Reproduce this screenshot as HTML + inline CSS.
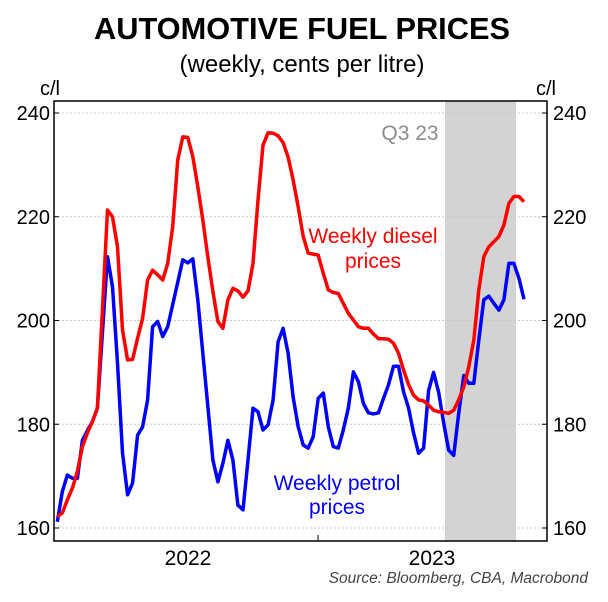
<!DOCTYPE html>
<html><head><meta charset="utf-8"><style>
body{margin:0;background:#fff;}
svg text{font-family:"Liberation Sans",sans-serif;}
</style></head><body>
<svg id="chart" width="608" height="597" viewBox="0 0 608 597">
<text x="302" y="39" text-anchor="middle" font-size="31" font-weight="bold" textLength="416" lengthAdjust="spacingAndGlyphs">AUTOMOTIVE FUEL PRICES</text>
<text x="302" y="72" text-anchor="middle" font-size="24">(weekly, cents per litre)</text>
<text x="40" y="95" font-size="20">c/l</text>
<text x="536" y="95" font-size="20">c/l</text>
<rect x="445" y="101" width="71" height="440" fill="#d3d3d3"/>
<text x="410" y="140" text-anchor="middle" font-size="21" fill="#8c8c8c">Q3 23</text>
<g id="grid"></g>
<g id="lines"></g>
<rect x="54" y="101" width="493" height="440" fill="none" stroke="#000" stroke-width="1.5"/>
<text x="373" y="243" text-anchor="middle" font-size="21" fill="#ff0000">Weekly diesel</text>
<text x="373" y="268" text-anchor="middle" font-size="21" fill="#ff0000">prices</text>
<text x="337" y="490" text-anchor="middle" font-size="21" fill="#0000ff">Weekly petrol</text>
<text x="337" y="514" text-anchor="middle" font-size="21" fill="#0000ff">prices</text>
<line x1="318" y1="541" x2="318" y2="535" stroke="#000" stroke-width="1"/>
<text x="188" y="565" text-anchor="middle" font-size="21">2022</text>
<text x="432" y="565" text-anchor="middle" font-size="21">2023</text>
<text x="588" y="583" text-anchor="end" font-size="15.5" font-style="italic" fill="#444">Source: Bloomberg, CBA, Macrobond</text>
</svg>
<script>
const yTicks = [160, 180, 200, 220, 240];
const petrolWeeks = [0,1,2,3,4,5,6,7,8,10,11,12,13,14,15,16,17,18,19,20,21,22,25,26,27,28,31,32,33,34,35,36,37,38,39,40,41,42,43,44,45,46,47,48,49,50,51,52,53,54,55,56,57,58,59,60,61,62,63,64,65,66,67,68,69,70,71,72,73,74,75,76,77,78,79,80,81,82,83,84,85,86,87,88,89,90,91,92,93];
const petrolValues = [161.2,167.0,170.2,169.6,169.6,176.9,178.8,180.5,183.1,212.3,206.5,191.8,174.5,166.4,168.7,177.9,179.5,184.7,198.8,199.8,196.9,198.8,211.7,211.1,211.9,204.0,173.1,168.9,172.5,176.9,173.1,164.4,163.5,173.1,183.1,182.4,178.9,179.9,184.7,195.9,198.5,193.7,185.3,179.5,176.0,175.4,177.6,185.0,186.0,179.5,175.7,175.4,178.9,183.1,190.1,188.2,184.0,182.2,182.0,182.2,185.0,187.6,191.2,191.2,186.3,183.1,178.3,174.4,175.4,186.5,190.0,186.1,180.2,175.0,174.0,182.1,189.4,187.9,187.9,196.2,204.0,204.7,203.3,202.0,204.0,211.0,211.0,208.1,204.1];
const dieselWeeks = [0,1,2,3,4,5,6,7,8,10,11,12,13,14,15,16,17,18,19,20,21,22,23,24,25,26,27,28,29,30,31,32,33,34,35,36,37,38,39,40,41,42,43,44,45,46,47,48,49,50,52,53,54,55,56,57,58,59,60,61,62,63,64,65,66,67,68,69,70,71,72,73,74,75,76,77,78,79,80,81,82,83,84,85,86,87,88,89,90,91,92,93];
const dieselValues = [162.2,162.9,165.4,167.7,170.9,175.7,178.3,180.5,183.1,221.3,220.0,214.2,198.2,192.4,192.5,196.6,200.4,207.8,209.7,208.8,207.8,211.0,218.1,230.9,235.4,235.3,231.6,225.8,219.4,212.3,205.6,199.8,198.5,204.0,206.2,205.7,204.5,205.7,211.0,223.2,233.8,236.2,236.1,235.6,234.3,231.5,227.1,221.9,216.2,213.0,212.6,209.1,205.9,205.4,205.2,203.3,201.4,200.1,198.8,198.5,198.5,197.4,196.5,196.5,196.4,195.6,193.7,190.5,187.6,185.6,184.7,184.5,183.7,182.7,182.4,182.3,182.1,182.7,184.7,187.2,191.1,196.2,205.9,212.3,214.2,215.2,216.2,218.4,222.6,223.9,223.9,222.9];

const NS = 'http://www.w3.org/2000/svg';
const xScale = w => 57.3 + w * 5.018;
const yScale = v => 113 + (240 - v) * 5.1875;
const grid = document.getElementById('grid');
yTicks.forEach(t => {
  const y = yScale(t);
  const gl = document.createElementNS(NS, 'line');
  
  
  gl.setAttribute('x1', 54); gl.setAttribute('x2', 547);
  gl.setAttribute('y1', y); gl.setAttribute('y2', y);
  gl.setAttribute('stroke', '#c8c8c8'); gl.setAttribute('stroke-dasharray', '2,2');
  grid.appendChild(gl);
  [[54, 59], [542, 547]].forEach(p => {
    const tk = document.createElementNS(NS, 'line');
    
    
    tk.setAttribute('x1', p[0]); tk.setAttribute('x2', p[1]);
    tk.setAttribute('y1', y); tk.setAttribute('y2', y);
    tk.setAttribute('stroke', '#000');
    grid.appendChild(tk);
  });
  const lt = document.createElementNS(NS, 'text');
  
  
  lt.setAttribute('x', 50); lt.setAttribute('y', y + 7);
  lt.setAttribute('text-anchor', 'end'); lt.setAttribute('font-size', '20');
  lt.textContent = t; grid.appendChild(lt);
  const rt = document.createElementNS(NS, 'text');
  
  
  rt.setAttribute('x', 553); rt.setAttribute('y', y + 7);
  rt.setAttribute('font-size', '20');
  rt.textContent = t; grid.appendChild(rt);
});
const lines = document.getElementById('lines');
function drawLine(weeks, vals, color, name) {
  const pl = document.createElementNS(NS, 'polyline');
  
  
  pl.setAttribute('points', weeks.map((w, i) => xScale(w).toFixed(1) + ',' + yScale(vals[i]).toFixed(1)).join(' '));
  pl.setAttribute('fill', 'none'); pl.setAttribute('stroke', color);
  pl.setAttribute('stroke-width', '3.5'); pl.setAttribute('stroke-linejoin', 'round');
  lines.appendChild(pl);
}
drawLine(petrolWeeks, petrolValues, '#0000ff', 'petrol-price-line');
drawLine(dieselWeeks, dieselValues, '#ff0000', 'diesel-price-line');
</script>
</body></html>
